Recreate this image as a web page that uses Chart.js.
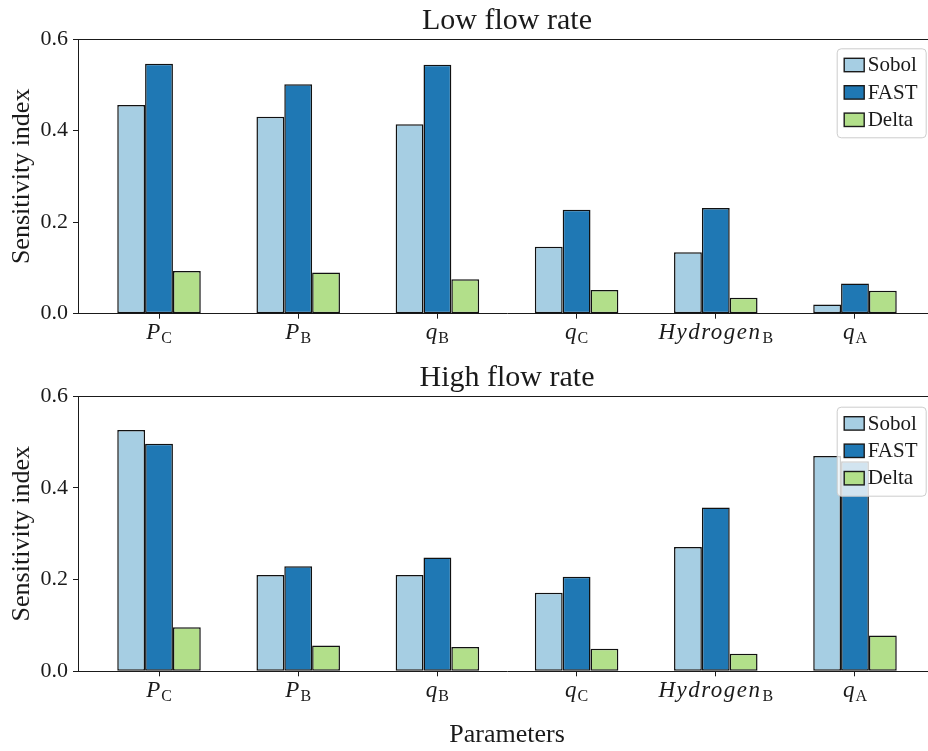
<!DOCTYPE html>
<html>
<head>
<meta charset="utf-8">
<script src="https://cdn.jsdelivr.net/npm/chart.js@4"></script>
<style>
  html, body { margin: 0; padding: 0; background: #fff; overflow: hidden; }
  body { width: 928px; height: 751px; position: relative; }
  canvas { position: absolute; left: 0; }
  #low { top: 0; }
  #high { top: 360px; }
</style>
</head>
<body>
<canvas id="low" width="940" height="360"></canvas>
<canvas id="high" width="940" height="391"></canvas>
<script>
// parameter names: italic main part + roman subscript
const catMain = ['P', 'P', 'q', 'q', 'Hydrogen', 'q']
const catSub = ['C', 'B', 'B', 'C', 'B', 'A']

const seriesNames = ['Sobol', 'FAST', 'Delta']

const sobolLow = [0.456, 0.430, 0.414, 0.146, 0.134, 0.020]
const fastLow = [0.546, 0.501, 0.544, 0.227, 0.231, 0.066]
const deltaLow = [0.093, 0.090, 0.075, 0.052, 0.035, 0.050]

const sobolHigh = [0.526, 0.210, 0.210, 0.171, 0.271, 0.469]
const fastHigh = [0.496, 0.229, 0.248, 0.206, 0.357, 0.458]
const deltaHigh = [0.096, 0.056, 0.053, 0.049, 0.038, 0.078]

const yTicks = [0, 0.2, 0.4, 0.6]

const colors = ['#a6cee3', '#1f78b4', '#b2df8a']
const ink = '#1a1a1a'
const serif = "'Liberation Serif', 'DejaVu Serif', serif"

// top and right spines
const framePlugin = {
  id: 'frame',
  afterDraw(chart) {
    const {ctx, chartArea: a} = chart
    ctx.save()
    ctx.strokeStyle = ink
    ctx.lineWidth = 1
    ctx.beginPath()
    ctx.moveTo(a.left, a.top + 0.5)
    ctx.lineTo(a.right, a.top + 0.5)
    ctx.lineTo(a.right, a.bottom)
    ctx.stroke()
    ctx.restore()
  }
}

// x tick labels with subscripts
const subLabels = {
  id: 'subLabels',
  afterDraw(chart) {
    const {ctx, chartArea: a} = chart
    const xs = chart.scales.x
    const y = a.bottom + 25.6
    ctx.save()
    ctx.fillStyle = ink
    ctx.textBaseline = 'alphabetic'
    ctx.textAlign = 'left'
    catMain.forEach((m, i) => {
      const x = xs.getPixelForValue(i)
      const sp = m.length > 1 ? '1.5px' : '0px'
      ctx.font = 'italic 23px ' + serif
      ctx.letterSpacing = sp
      const w1 = ctx.measureText(m).width
      ctx.font = '16px ' + serif
      ctx.letterSpacing = '0px'
      const w2 = ctx.measureText(catSub[i]).width
      const x0 = x - (w1 + w2 + 1) / 2
      ctx.font = 'italic 23px ' + serif
      ctx.letterSpacing = sp
      ctx.fillText(m, x0, y)
      ctx.font = '16px ' + serif
      ctx.letterSpacing = '0px'
      ctx.fillText(catSub[i], x0 + w1 + 1, y + 4)
    })
    ctx.restore()
  }
}

// legend box inside the axes, upper right
const boxLegend = {
  id: 'boxLegend',
  afterDraw(chart, args, opts) {
    const {ctx, chartArea: a} = chart
    const left = a.right - 99.3
    const top = a.top + opts.top
    const w = 89, h = 89
    ctx.save()
    ctx.fillStyle = 'rgba(255,255,255,0.8)'
    ctx.strokeStyle = '#cccccc'
    ctx.lineWidth = 1
    ctx.beginPath()
    ctx.roundRect(left + 0.5, top + 0.5, w, h, 4)
    ctx.fill()
    ctx.stroke()
    ctx.font = '21px ' + serif
    ctx.textBaseline = 'alphabetic'
    chart.data.datasets.forEach((ds, i) => {
      const py = top + 10 + i * 27.4
      ctx.fillStyle = ds.backgroundColor
      ctx.fillRect(left + 7.5, py, 20, 13.4)
      ctx.strokeStyle = ink
      ctx.lineWidth = 1.4
      ctx.strokeRect(left + 7.5, py, 20, 13.4)
      ctx.fillStyle = ink
      ctx.fillText(ds.label, left + 31, py + 12.8)
    })
    ctx.restore()
  }
}

function makeChart(id, title, sobol, fast, delta, cfg) {
  const values = [sobol, fast, delta]
  const datasets = values.map((vals, k) => ({
    label: seriesNames[k],
    data: vals.map((v, i) => ({x: i, y: v})),
    backgroundColor: colors[k],
    borderColor: '#111',
    borderWidth: 1.5,
    borderSkipped: false,
    categoryPercentage: 0.6,
    barPercentage: 1.0
  }))
  return new Chart(document.getElementById(id), {
    type: 'bar',
    data: {datasets},
    options: {
      responsive: false,
      animation: false,
      events: [],
      layout: {padding: {left: 0, right: 4, top: 0, bottom: 0}},
      plugins: {
        legend: {display: false},
        tooltip: {enabled: false},
        title: {
          display: true,
          fullSize: false,
          text: title,
          color: ink,
          font: {family: serif, size: 30, weight: 'normal'},
          padding: cfg.titlePad
        },
        boxLegend: {top: cfg.legendTop}
      },
      scales: {
        x: {
          type: 'linear',
          offset: false,
          min: -0.582,
          max: 5.582,
          afterBuildTicks: s => { s.ticks = catMain.map((c, i) => ({value: i})) },
          afterFit: s => { s.height = cfg.xHeight },
          ticks: {callback: () => '', font: {family: serif, size: 22}},
          grid: {offset: false, drawOnChartArea: false, drawTicks: true, tickLength: 5, color: ink, lineWidth: 1},
          border: {display: true, color: ink, width: 1},
          title: cfg.xTitle ? {
            display: true,
            text: cfg.xTitle,
            color: ink,
            font: {family: serif, size: 26},
            padding: {top: 0, bottom: 0}
          } : {display: false}
        },
        y: {
          min: 0,
          max: 0.6,
          afterBuildTicks: s => { s.ticks = yTicks.map(v => ({value: v})) },
          afterFit: s => { s.width = 78 },
          ticks: {
            callback: v => v.toFixed(1),
            color: ink,
            padding: 5,
            font: {family: serif, size: 22}
          },
          grid: {drawOnChartArea: false, drawTicks: true, tickLength: 5, color: ink, lineWidth: 1},
          border: {display: true, color: ink, width: 1},
          title: {
            display: true,
            text: 'Sensitivity index',
            color: ink,
            font: {family: serif, size: 26},
            padding: {top: 7, bottom: 0}
          }
        }
      }
    },
    plugins: [framePlugin, subLabels, boxLegend]
  })
}

makeChart('low', 'Low flow rate', sobolLow, fastLow, deltaLow, {
  titlePad: {top: 3, bottom: 0},
  xHeight: 46.3,
  legendTop: 9.3
})

makeChart('high', 'High flow rate', sobolHigh, fastHigh, deltaHigh, {
  titlePad: {top: 0, bottom: 0},
  xHeight: 79.7,
  legendTop: 10.7,
  xTitle: 'Parameters'
})
</script>
</body>
</html>
